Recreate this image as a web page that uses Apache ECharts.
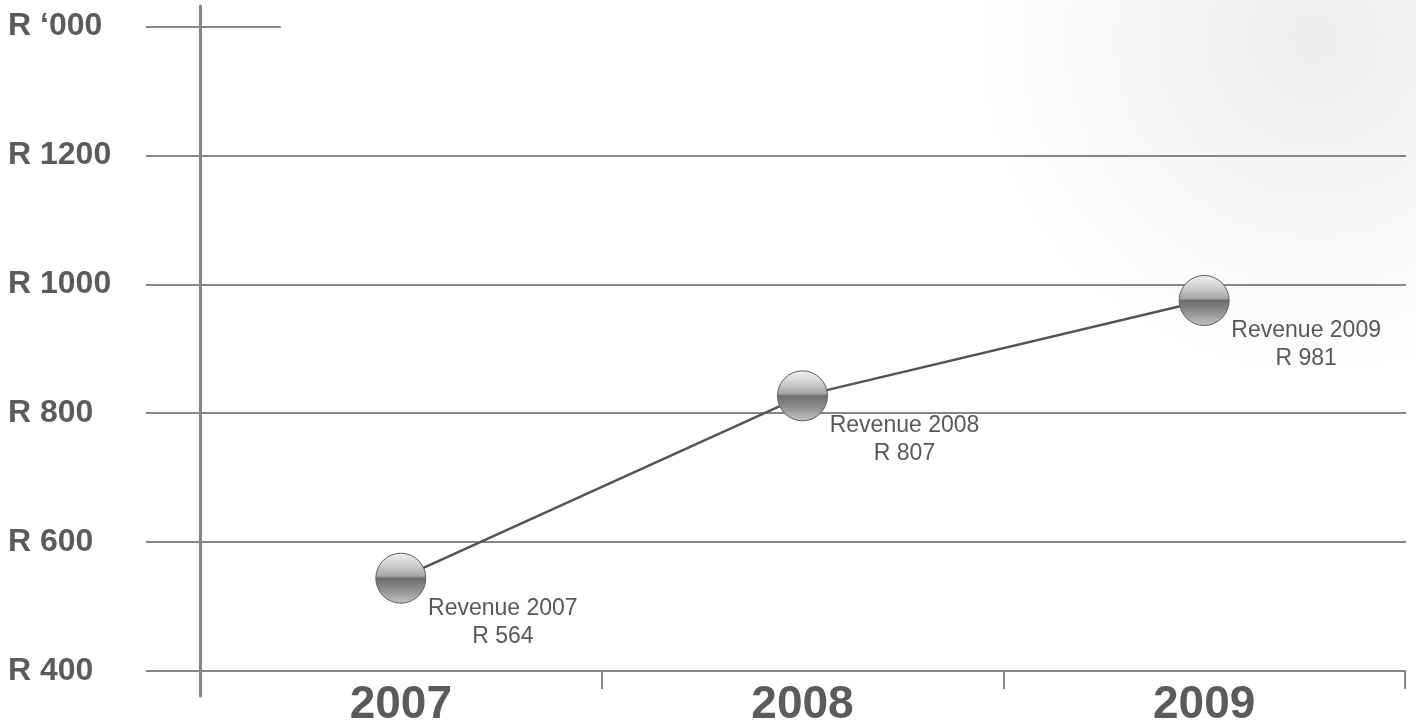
<!DOCTYPE html>
<html>
<head>
<meta charset="utf-8">
<script src="https://cdn.jsdelivr.net/npm/echarts@6/dist/echarts.min.js"></script>
<style>
html,body{margin:0;padding:0;background:#fff;}
#chart{width:1416px;height:726px;}
</style>
</head>
<body>
<div id="chart"></div>
<script>
// ---- data ----
var years = ['2007', '2008', '2009'];
var plottedValues = [544, 827, 975];      // positions of the spheres as drawn
var revenueLabels = [564, 807, 981];      // values printed next to the spheres
var yTicks = [400, 600, 800, 1000, 1200, 1400];
var yTopLabel = "R \u2018000";

var FONT = '"Liberation Sans", Arial, sans-serif';
var GRID_COLOR = '#86868b';
var TEXT_COLOR = '#5b5b5e';

var chart = echarts.init(document.getElementById('chart'), null, {renderer: 'canvas'});

var sphere = new echarts.graphic.LinearGradient(0, 0, 0, 1, [
  {offset: 0, color: '#f0f0f0'},
  {offset: 0.2, color: '#d6d6d6'},
  {offset: 0.46, color: '#a6a6a8'},
  {offset: 0.5, color: '#6c6c6e'},
  {offset: 0.72, color: '#8e8e90'},
  {offset: 1, color: '#c4c4c6'}
]);

var option = {
  backgroundColor: '#ffffff',
  animation: false,
  graphic: [{
    type: 'rect',
    z: -10,
    silent: true,
    shape: {x: 740, y: 0, width: 676, height: 380},
    style: {
      fill: new echarts.graphic.RadialGradient(0.85, 0.1, 0.9, [
        {offset: 0, color: 'rgba(0,0,0,0.07)'},
        {offset: 0.5, color: 'rgba(0,0,0,0.035)'},
        {offset: 1, color: 'rgba(0,0,0,0)'}
      ])
    }
  }],
  grid: [
    {left: 146, right: 10, top: 26.6, bottom: 55, outerBoundsMode: 'none', containLabel: false},
    {left: 200, right: 11, top: 26.6, bottom: 55, outerBoundsMode: 'none', containLabel: false},
    {left: 200, width: 1, top: 6, bottom: 30, outerBoundsMode: 'none', containLabel: false}
  ],
  xAxis: [
    {gridIndex: 0, type: 'value', min: 0, max: 1, show: false},
    {
      gridIndex: 1, type: 'category', data: years, boundaryGap: true,
      axisLine: {show: false},
      axisTick: {show: true, length: 18, lineStyle: {color: GRID_COLOR, width: 2}},
      axisLabel: {
        color: TEXT_COLOR, fontFamily: FONT, fontWeight: 'bold', fontSize: 46, margin: 11
      },
      splitLine: {show: false}
    },
    {gridIndex: 2, type: 'value', min: 0, max: 1, show: false}
  ],
  yAxis: [
    {
      gridIndex: 0, type: 'value', min: yTicks[0], max: yTicks[yTicks.length - 1],
      interval: yTicks[1] - yTicks[0],
      axisLine: {show: false}, axisTick: {show: false},
      axisLabel: {
        align: 'left', margin: 138,
        color: TEXT_COLOR, fontFamily: FONT, fontWeight: 'bold', fontSize: 32,
        formatter: function (v) {
          return v === yTicks[yTicks.length - 1] ? yTopLabel : 'R ' + v;
        }
      },
      splitLine: {show: true, showMaxLine: false, lineStyle: {color: GRID_COLOR, width: 2}}
    },
    {
      gridIndex: 1, type: 'value', min: yTicks[0], max: yTicks[yTicks.length - 1],
      show: false
    },
    {
      gridIndex: 2, type: 'value', min: 0, max: 1,
      axisLine: {show: true, lineStyle: {color: GRID_COLOR, width: 3}},
      axisTick: {show: false}, axisLabel: {show: false}, splitLine: {show: false}
    }
  ],
  series: [
    {
      type: 'line', xAxisIndex: 0, yAxisIndex: 0, data: [], silent: true,
      markLine: {
        silent: true, symbol: 'none', label: {show: false},
        lineStyle: {color: GRID_COLOR, width: 2, type: 'solid'},
        data: [[{coord: [0, yTicks[yTicks.length - 1]]}, {coord: [0.107, yTicks[yTicks.length - 1]]}]]
      }
    },
    {
      type: 'line', xAxisIndex: 1, yAxisIndex: 1,
      data: plottedValues,
      z: 5,
      lineStyle: {color: '#545456', width: 2.5},
      symbol: 'circle', symbolSize: 50,
      itemStyle: {color: sphere, borderColor: '#5e5e60', borderWidth: 1},
      label: {
        show: true, position: 'inside', offset: [102, 44],
        align: 'center', verticalAlign: 'middle',
        color: '#58585a', fontFamily: FONT, fontSize: 23, lineHeight: 28,
        formatter: function (p) {
          return 'Revenue ' + years[p.dataIndex] + '\nR ' + revenueLabels[p.dataIndex];
        }
      }
    }
  ]
};
chart.setOption(option);
</script>
</body>
</html>
